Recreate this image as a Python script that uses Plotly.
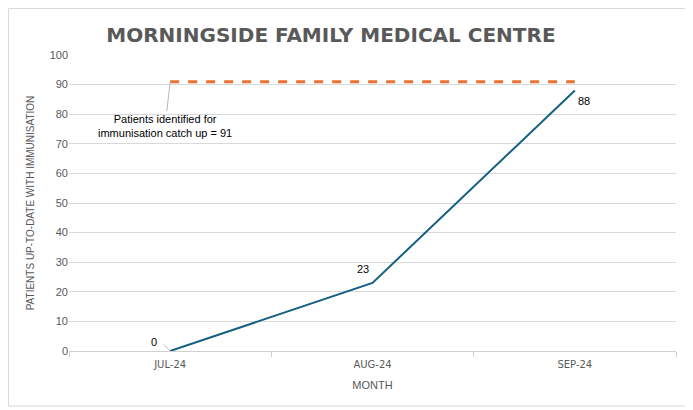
import plotly.graph_objects as go

# Data
months = ["JUL-24", "AUG-24", "SEP-24"]
up_to_date = [0, 23, 88]
catch_up_target = [91, 91, 91]

grey = "#595959"

fig = go.Figure()

# target line (dashed orange)
fig.add_trace(go.Scatter(
    x=months, y=catch_up_target, mode="lines",
    line=dict(color="#E97132", width=3, dash="dash"),
    hoverinfo="skip", showlegend=False,
))

# patients up to date
fig.add_trace(go.Scatter(
    x=months, y=up_to_date, mode="lines",
    line=dict(color="#156082", width=2),
    showlegend=False,
))

# data labels
shifts = [(-16, 9), (-10, 14), (9, -10)]
for m, v, (dx, dy) in zip(months, up_to_date, shifts):
    fig.add_annotation(x=m, y=v, text=str(v), showarrow=False,
                       xshift=dx, yshift=dy,
                       font=dict(family="Liberation Sans, Arial", size=11, color="#000000"))

# leader for the 0 label
fig.add_annotation(x=months[0], y=up_to_date[0], text="", showarrow=True,
                   arrowhead=0, arrowwidth=0.8, arrowcolor="#A6A6A6",
                   ax=-8, ay=-8, standoff=0)

fig.add_annotation(
    x=months[0], y=catch_up_target[0],
    text="Patients identified for<br>immunisation catch up = " + str(catch_up_target[0]),
    showarrow=True, arrowhead=0, arrowwidth=0.8, arrowcolor="#A6A6A6",
    ax=-5, ay=44,
    font=dict(family="Liberation Sans, Arial", size=11, color="#000000"),
)

# page body adds an 8px offset, margins account for it
fig.update_layout(
    width=693, height=410,
    margin=dict(l=61, r=25, t=47, b=67, autoexpand=False),
    paper_bgcolor="white", plot_bgcolor="white",
    title=dict(
        text="<b>MORNINGSIDE FAMILY MEDICAL CENTRE</b>",
        x=0.466, xanchor="center", y=0.934, yanchor="middle",
        font=dict(family="DejaVu Sans, Liberation Sans", size=20, color=grey),
    ),
    font=dict(family="Liberation Sans, Arial", color=grey),
)

fig.update_xaxes(
    range=[-0.5, 2.5], automargin=False,
    showgrid=False, showline=True, linecolor="#D0D0D0", linewidth=1,
    ticks="outside", tickson="boundaries", ticklen=5, tickcolor="#D0D0D0",
    tickfont=dict(family="DejaVu Sans", size=10, color=grey),
    ticklabelstandoff=4,
    title=dict(text="MONTH", font=dict(size=11, color=grey), standoff=12),
)
fig.update_yaxes(
    range=[0, 100], dtick=10, automargin=False,
    showgrid=True, gridcolor="#D9D9D9", gridwidth=1, zeroline=False,
    showline=False,
    tickfont=dict(size=11, color=grey),
    title=dict(text="PATIENTS UP-TO-DATE WITH IMMUNISATION",
               font=dict(size=10, color=grey), standoff=13),
)

# chart border
fig.add_shape(type="rect", xref="paper", yref="paper",
              x0=-0.0997, x1=1.0198, y0=-0.186, y1=1.157,
              line=dict(color="#D9D9D9", width=1))

fig.write_html("out.html")
